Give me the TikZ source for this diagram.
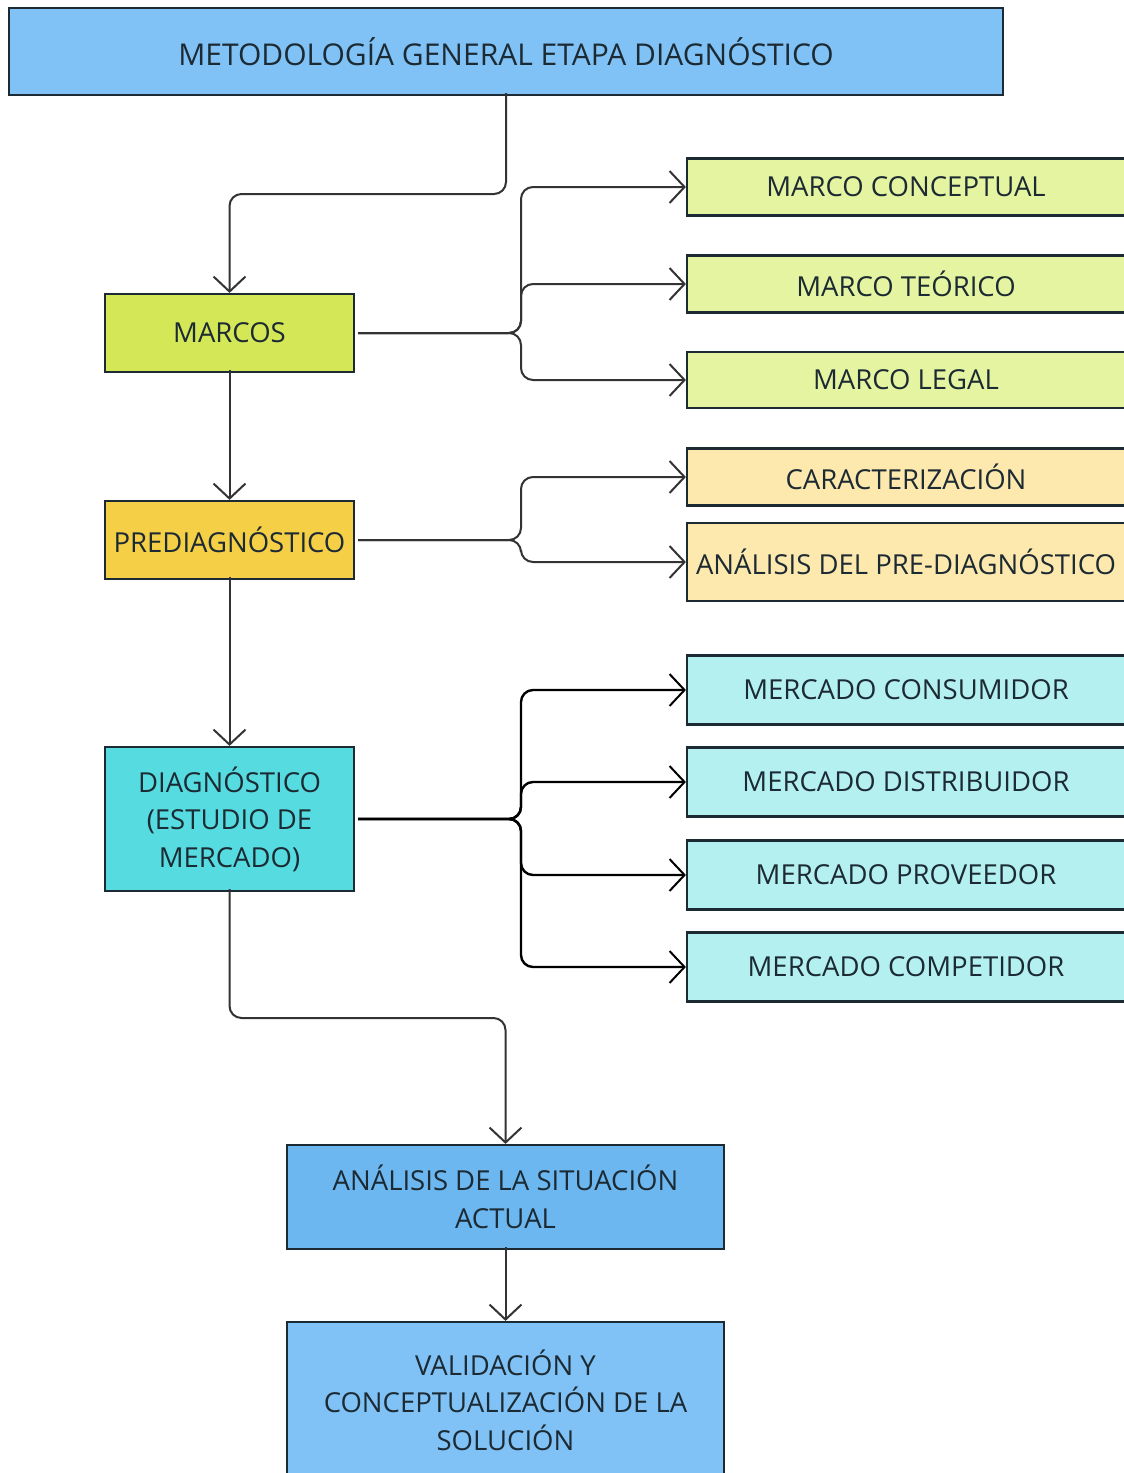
\documentclass[tikz,border=0pt]{standalone}
\usepackage{fontspec}
\setmainfont{Open Sans}
\usetikzlibrary{arrows.meta}

\definecolor{ink}{HTML}{1C2A33}
\definecolor{wire}{HTML}{333333}
\definecolor{skyblue}{HTML}{80C2F5}
\definecolor{midblue}{HTML}{6CB7F0}
\definecolor{lime}{HTML}{D4E857}
\definecolor{palelime}{HTML}{E5F4A1}
\definecolor{amber}{HTML}{F5CF46}
\definecolor{paleamber}{HTML}{FDE8AE}
\definecolor{cyan}{HTML}{56DCE0}
\definecolor{palecyan}{HTML}{B4F0F0}

\tikzset{
  box/.style={draw=ink, line width=2.2pt, rectangle, align=center, inner sep=0pt,
    text=ink, font=\fontsize{27.5}{37.5}\selectfont},
  sidebox/.style={box, minimum width=438pt},
  conn/.style={draw=wire, line width=2pt, rounded corners=12pt,
    -{Straight Barb[length=15pt, width=32pt, line width=2pt]}}
}

\begin{document}
\begin{tikzpicture}[x=1pt, y=-1pt]
\useasboundingbox (0,0) rectangle (1124,1473);
\clip (0,0) rectangle (1124,1473);
\fill[white] (0,0) rectangle (1124,1473);

% main column
\node[box, fill=skyblue, minimum width=994pt, minimum height=87pt,
  font=\fontsize{30}{37.5}\selectfont] (title) at (506,51.5)
  {METODOLOGÍA GENERAL ETAPA DIAGNÓSTICO};
\node[box, fill=lime, minimum width=249pt, minimum height=78pt] (marcos) at (229.5,333)
  {MARCOS};
\node[box, fill=amber, minimum width=249pt, minimum height=78pt] (prediag) at (229.5,540)
  {PREDIAGNÓSTICO};
\node[box, fill=cyan, minimum width=249pt, minimum height=144pt] (diag) at (229.5,819)
  {DIAGNÓSTICO\\(ESTUDIO DE\\MERCADO)};
\node[box, fill=midblue, minimum width=437pt, minimum height=104pt] (actual) at (505.5,1197)
  {ANÁLISIS DE LA SITUACIÓN\\ACTUAL};
\node[box, fill=skyblue, minimum width=437pt, minimum height=156pt] (valid) at (505.5,1400)
  {VALIDACIÓN Y\\CONCEPTUALIZACIÓN DE LA\\SOLUCIÓN};

% side boxes
\node[sidebox, fill=palelime, minimum height=57pt] (conceptual) at (906,187) {MARCO CONCEPTUAL};
\node[sidebox, fill=palelime, minimum height=57pt] (teorico) at (906,284) {MARCO TEÓRICO};
\node[sidebox, fill=palelime, minimum height=56pt] (legal) at (906,380) {MARCO LEGAL};
\node[sidebox, fill=paleamber, minimum height=57pt] (caract) at (906,477) {CARACTERIZACIÓN};
\node[sidebox, fill=paleamber, minimum height=78pt] (preanal) at (906,562) {ANÁLISIS DEL PRE-DIAGNÓSTICO};
\node[sidebox, fill=palecyan, minimum height=69pt] (consumidor) at (906,690) {MERCADO CONSUMIDOR};
\node[sidebox, fill=palecyan, minimum height=69pt] (distribuidor) at (906,782) {MERCADO DISTRIBUIDOR};
\node[sidebox, fill=palecyan, minimum height=69pt] (proveedor) at (906,875) {MERCADO PROVEEDOR};
\node[sidebox, fill=palecyan, minimum height=69pt] (competidor) at (906,967) {MERCADO COMPETIDOR};

% bend points and branch bus
\coordinate (j1) at (506,194);
\coordinate (j2) at (229.5,1018);
\coordinate (bus) at (521,0);

% main flow
\draw[conn] ([yshift=3pt]title.south) -- (j1) -| (marcos.north);
\draw[conn] ([yshift=3pt]marcos.south) -- (prediag.north);
\draw[conn] ([yshift=3pt]prediag.south) -- (diag.north);
\draw[conn] ([yshift=3pt]diag.south) -- (j2) -| (actual.north);
\draw[conn] ([yshift=3pt]actual.south) -- (valid.north);

% branches
\foreach \t in {conceptual, teorico, legal}
  \draw[conn] ([xshift=3pt]marcos.east) -| (bus |- \t.west) -- (\t.west);
\foreach \t in {caract, preanal}
  \draw[conn] ([xshift=3pt]prediag.east) -| (bus |- \t.west) -- (\t.west);
\foreach \t in {consumidor, distribuidor, proveedor, competidor}
  \draw[conn, draw=black, line width=2.4pt] ([xshift=3pt]diag.east) -| (bus |- \t.west) -- (\t.west);
\end{tikzpicture}
\end{document}
